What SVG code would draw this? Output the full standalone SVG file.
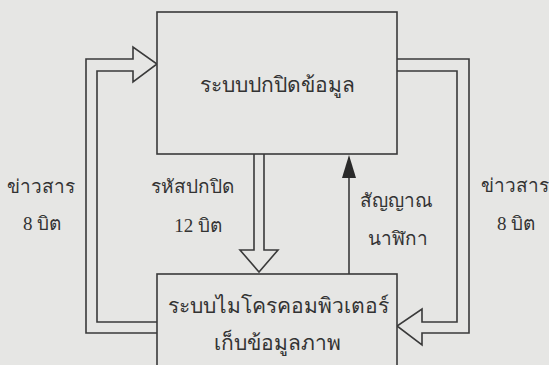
<svg xmlns="http://www.w3.org/2000/svg" width="549" height="365" viewBox="0 0 549 365">
<style>
.bg{fill:#e6e6e4}
.box{fill:#e6e6e4;stroke:#3a3a3a;stroke-width:1.6}
.ln{fill:none;stroke:#3a3a3a;stroke-width:1.6;stroke-linejoin:miter}
.t{font-family:"Liberation Serif","Noto Serif","Noto Sans",serif;fill:#333;text-anchor:middle}
.big{font-size:21px}
.lab{font-size:19px}
</style>
<rect class="bg" x="0" y="0" width="549" height="365"/>
<g id="connectors">
<path class="ln" d="M157,333 H86 V59 H133 V47 L157,64 L133,82 V71 H97 V322 H157"/>
<path class="ln" d="M397,59 H469 V333 H422 V345 L397,326 L422,309 V322 H457 V71 H397"/>
<path class="ln" d="M254,154 V250 H240 L259,272 L278,250 H264 V154"/>
<line class="ln" x1="349" y1="274" x2="349" y2="176"/>
<polygon points="342,178 356,178 349,155" fill="#2a2a2a"/>
</g>
<g id="node-encrypt">
<rect class="box" x="157" y="12" width="240" height="142"/>
<text class="t big" x="277" y="92">ระบบปกปิดข้อมูล</text>
</g>
<g id="node-micro">
<rect class="box" x="157" y="274" width="240" height="100"/>
<text class="t big" x="278" y="313">ระบบไมโครคอมพิวเตอร์</text>
<text class="t big" x="277" y="350">เก็บข้อมูลภาพ</text>
</g>
<g id="labels">
<text class="t lab" x="192" y="193">รหัสปกปิด</text>
<text class="t lab" x="198" y="232">12 บิต</text>
<text class="t lab" x="396" y="207">สัญญาณ</text>
<text class="t lab" x="398" y="245">นาฬิกา</text>
<text class="t lab" x="515" y="192">ข่าวสาร</text>
<text class="t lab" x="516" y="230">8 บิต</text>
<text class="t lab" x="41" y="193">ข่าวสาร</text>
<text class="t lab" x="42" y="230">8 บิต</text>
</g>
</svg>
